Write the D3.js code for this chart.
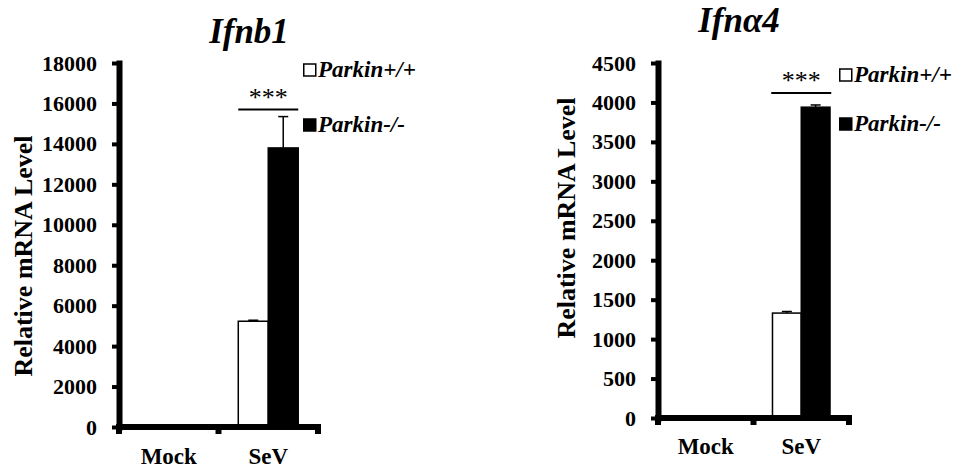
<!DOCTYPE html>
<html lang="en">
  <head>
    <meta charset="UTF-8" />
    <title>Ifnb1 / Ifna4</title>
  </head>
  <body style="margin: 0">
    <script src="https://cdn.jsdelivr.net/npm/d3@7/dist/d3.min.js"></script>
    <script>
      // data
      const categories = ["Mock", "SeV"];
      const seriesNames = ["Parkin+/+", "Parkin-/-"];

      const ifnb1WT = [1, 5230];
      const ifnb1KO = [1, 13800];
      const ifnb1WTErr = [0, 50];
      const ifnb1KOErr = [0, 1550];
      const ifnb1Ticks = [0, 2000, 4000, 6000, 8000, 10000, 12000, 14000, 16000, 18000];
      const ifnb1Sig = 15700;

      const ifna4WT = [1, 1330];
      const ifna4KO = [1, 3940];
      const ifna4WTErr = [0, 20];
      const ifna4KOErr = [0, 28];
      const ifna4Ticks = [0, 500, 1000, 1500, 2000, 2500, 3000, 3500, 4000, 4500];
      const ifna4Sig = 4120;

      const FONT = "Liberation Serif";

      const svg = d3.select("body").append("svg").attr("width", 960).attr("height", 468);

      const panels = [
        {
          title: "Ifnb1",
          values: [ifnb1WT, ifnb1KO],
          errors: [ifnb1WTErr, ifnb1KOErr],
          ticks: ifnb1Ticks,
          sig: ifnb1Sig,
          left: 119,
          right: 318,
          top: 63,
          bottom: 427,
          titleX: 249,
          titleY: 43,
          labelX: 23,
          labelY: 256,
          legendX: 303,
          legendY: [70, 125],
          xLabelY: 464,
        },
        {
          title: "Ifnα4",
          values: [ifna4WT, ifna4KO],
          errors: [ifna4WTErr, ifna4KOErr],
          ticks: ifna4Ticks,
          sig: ifna4Sig,
          left: 658,
          right: 849,
          top: 63,
          bottom: 418,
          titleX: 739,
          titleY: 32,
          labelX: 566,
          labelY: 218,
          legendX: 839,
          legendY: [75, 124],
          xLabelY: 454,
        },
      ];

      panels.forEach((p) => {
        const g = svg.append("g");

        const y = d3
          .scaleLinear()
          .domain([0, d3.max(p.ticks)])
          .range([p.bottom, p.top]);
        const x0 = d3.scaleBand().domain(categories).range([p.left, p.right]);
        const x1 = d3.scaleBand().domain(seriesNames).range([0, x0.bandwidth()]).paddingOuter(0.66);

        // 柱子
        const rows = categories.map((c, i) => seriesNames.map((s, j) => ({ c, s, j, v: p.values[j][i], e: p.errors[j][i] })));
        const bars = g
          .selectAll("g.cat")
          .data(rows)
          .enter()
          .append("g")
          .attr("transform", (d, i) => `translate(${x0(categories[i])},0)`);

        // 误差线
        const err = bars.selectAll("g.err").data((d) => d.filter((e) => e.e > 0)).enter().append("g");
        err
          .append("line")
          .attr("x1", (d) => x1(d.s) + x1.bandwidth() / 2)
          .attr("x2", (d) => x1(d.s) + x1.bandwidth() / 2)
          .attr("y1", (d) => y(d.v))
          .attr("y2", (d) => y(d.v + d.e))
          .attr("stroke", "#000")
          .attr("stroke-width", 1.5);
        err
          .append("line")
          .attr("x1", (d) => x1(d.s) + x1.bandwidth() / 2 - 5)
          .attr("x2", (d) => x1(d.s) + x1.bandwidth() / 2 + 5)
          .attr("y1", (d) => y(d.v + d.e))
          .attr("y2", (d) => y(d.v + d.e))
          .attr("stroke", "#000")
          .attr("stroke-width", 1.5);

        bars
          .selectAll("rect")
          .data((d) => d)
          .enter()
          .append("rect")
          .attr("x", (d) => x1(d.s))
          .attr("y", (d) => y(d.v))
          .attr("width", x1.bandwidth())
          .attr("height", (d) => y(0) - y(d.v))
          .attr("fill", (d) => (d.j === 0 ? "#fff" : "#000"))
          .attr("stroke", "#000")
          .attr("stroke-width", 1.5);

        // y轴
        const yAxis = g
          .append("g")
          .attr("transform", `translate(${p.left},0)`)
          .call(d3.axisLeft(y).tickValues(p.ticks).tickFormat(d3.format("d")).tickSize(7).tickSizeOuter(0).tickPadding(15));
        yAxis.attr("font-family", FONT).attr("font-size", 22).attr("font-weight", "bold");
        yAxis.select(".domain").attr("stroke", "#000").attr("stroke-width", 6).attr("stroke-linecap", "square");
        yAxis.selectAll(".tick line").attr("stroke", "#000").attr("stroke-width", 4);
        yAxis.selectAll(".tick text").attr("fill", "#000").attr("font-family", FONT).attr("font-size", 22).attr("font-weight", "bold");

        // x轴
        g.append("line")
          .attr("x1", p.left - 3)
          .attr("x2", p.right + 3)
          .attr("y1", y(0))
          .attr("y2", y(0))
          .attr("stroke", "#000")
          .attr("stroke-width", 6);
        const edges = categories.map((c) => x0(c)).concat([x0(categories[categories.length - 1]) + x0.bandwidth()]);
        g.selectAll("rect.xtick")
          .data(edges)
          .enter()
          .append("rect")
          .attr("x", (d) => d - 3)
          .attr("y", y(0))
          .attr("width", 6)
          .attr("height", 7)
          .attr("fill", "#000");
        g.selectAll("text.xlab")
          .data(categories)
          .enter()
          .append("text")
          .attr("x", (d) => x0(d) + x0.bandwidth() / 2)
          .attr("y", p.xLabelY)
          .attr("text-anchor", "middle")
          .attr("font-family", FONT)
          .attr("font-weight", "bold")
          .attr("font-size", 23)
          .text((d) => d);

        // 显著性
        const sx = x0("SeV") + x0.bandwidth() / 2;
        g.append("line")
          .attr("x1", sx - 30)
          .attr("x2", sx + 30)
          .attr("y1", y(p.sig))
          .attr("y2", y(p.sig))
          .attr("stroke", "#000")
          .attr("stroke-width", 2);
        g.append("text")
          .attr("x", sx)
          .attr("y", y(p.sig) - 4)
          .attr("text-anchor", "middle")
          .attr("font-family", FONT)
          .attr("font-size", 26)
          .text("***");

        // 标题
        g.append("text")
          .attr("x", p.titleX)
          .attr("y", p.titleY)
          .attr("text-anchor", "middle")
          .attr("font-family", FONT)
          .attr("font-weight", "bold")
          .attr("font-size", 35)
          .attr("font-style", "italic")
          .text(p.title);

        // y轴标题
        g.append("text")
          .attr("transform", `translate(${p.labelX},${p.labelY}) rotate(-90)`)
          .attr("text-anchor", "middle")
          .attr("dominant-baseline", "central")
          .attr("font-family", FONT)
          .attr("font-weight", "bold")
          .attr("font-size", 26)
          .text("Relative mRNA Level");

        // 图例
        const legend = g
          .selectAll("g.legend")
          .data(seriesNames)
          .enter()
          .append("g")
          .attr("transform", (d, i) => `translate(${p.legendX},${p.legendY[i]})`);
        legend
          .append("rect")
          .attr("x", 0.75)
          .attr("y", -6)
          .attr("width", 12)
          .attr("height", 12)
          .attr("fill", (d, i) => (i === 0 ? "#fff" : "#000"))
          .attr("stroke", "#000")
          .attr("stroke-width", 1.5);
        legend
          .append("text")
          .attr("x", 15)
          .attr("y", 7)
          .attr("font-family", FONT)
          .attr("font-weight", "bold")
          .attr("font-size", 23)
          .attr("font-style", "italic")
          .text((d) => d);
      });
    </script>
  </body>
</html>
